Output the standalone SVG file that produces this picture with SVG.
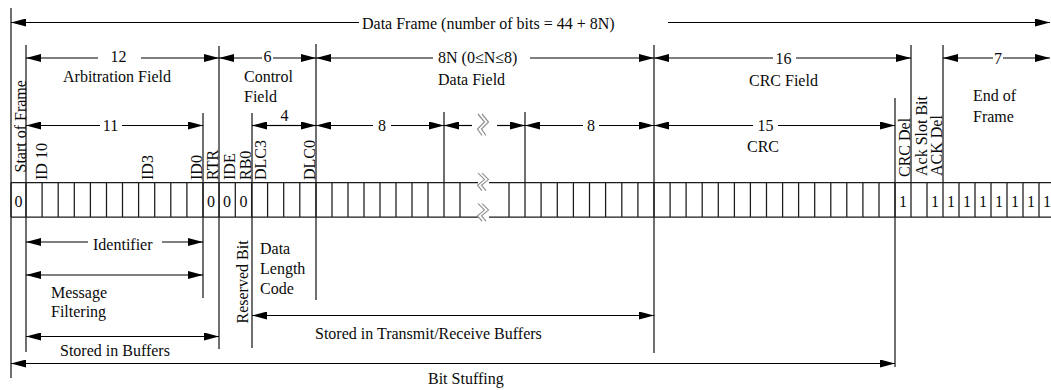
<svg xmlns="http://www.w3.org/2000/svg" width="1051" height="390" viewBox="0 0 1051 390">
  <style>
    text { font-family: "Liberation Serif", "Times New Roman", serif; font-size: 16px; fill: #0a0a0a; }
    .mid { text-anchor: middle; }
    .dim { stroke: #000; stroke-width: 1.2; fill: none; marker-end: url(#ah); }
    .ext { stroke: #111; stroke-width: 1.2; fill: none; }
    .cell { stroke: #1a1a1a; stroke-width: 1.25; fill: none; }
    .brk { stroke: #8f8f8f; stroke-width: 1.2; fill: none; }
  </style>
  <defs>
    <marker id="ah" markerUnits="userSpaceOnUse" markerWidth="15" markerHeight="8" refX="15" refY="4" orient="auto">
      <path d="M0,0 L15,4 L0,8 z" fill="#000"/>
    </marker>
    <!-- double zigzag break mark -->
    <path id="brk" class="brk" d="M0,0 l6.5,8 l-7,7 l4.5,6.5 M4,0 l6.5,8 l-7,7 l4.5,6.5"/>
  </defs>

  <rect width="1051" height="390" fill="#fff"/>

  <!-- extension lines marking field borders -->
  <g id="extension-lines">
    <path class="ext" d="M11,8 V378 M26,45 V352 M203,113 V298 M219,46 V349 M252,113 V348 M316,44 V300
      M444,112 V182.5 M525,112 V182.5 M654,45 V353 M895,98 V367 M911,45 V182.5 M943,45 V182.5"/>
  </g>

  <!-- bit cells -->
  <g id="bit-row">
    <path class="cell" d="M11,182.5 H478 M489,182.5 H1051 M11,217 H478 M489,217 H1051"/>
    <path class="cell" d="M11,182.5 V217 M26,182.5 V217 M42.1,182.5 V217 M58.2,182.5 V217 M74.3,182.5 V217
      M90.4,182.5 V217 M106.5,182.5 V217 M122.5,182.5 V217 M138.6,182.5 V217 M154.7,182.5 V217
      M170.8,182.5 V217 M186.9,182.5 V217 M203,182.5 V217 M219.1,182.5 V217 M235.3,182.5 V217
      M251.6,182.5 V217 M267.6,182.5 V217 M283.7,182.5 V217 M299.8,182.5 V217 M316,182.5 V217
      M332,182.5 V217 M348,182.5 V217 M364,182.5 V217 M380,182.5 V217 M396,182.5 V217
      M412,182.5 V217 M428,182.5 V217 M444,182.5 V217 M460,182.5 V217
      M509,182.5 V217 M525,182.5 V217 M541.1,182.5 V217 M557.3,182.5 V217 M573.4,182.5 V217
      M589.5,182.5 V217 M605.6,182.5 V217 M621.8,182.5 V217 M637.9,182.5 V217 M654,182.5 V217
      M670.1,182.5 V217 M686.1,182.5 V217 M702.2,182.5 V217 M718.3,182.5 V217 M734.4,182.5 V217
      M750.4,182.5 V217 M766.5,182.5 V217 M782.6,182.5 V217 M798.6,182.5 V217 M814.7,182.5 V217
      M830.8,182.5 V217 M846.8,182.5 V217 M862.9,182.5 V217 M879,182.5 V217 M895,182.5 V217
      M911,182.5 V217 M927,182.5 V217 M943,182.5 V217 M959,182.5 V217 M975,182.5 V217
      M991,182.5 V217 M1007,182.5 V217 M1023,182.5 V217 M1039,182.5 V217"/>
    <use href="#brk" transform="translate(478,173) scale(1,0.82)"/>
    <use href="#brk" transform="translate(478,203.5) scale(1,0.82)"/>
    <text class="mid" x="18.5" y="206.5">0</text>
    <text class="mid" x="211" y="206.5">0</text>
    <text class="mid" x="227" y="206.5">0</text>
    <text class="mid" x="243.5" y="206.5">0</text>
    <text class="mid" x="903" y="206.5">1</text>
    <text class="mid" x="935" y="206.5">1</text>
    <text class="mid" x="951" y="206.5">1</text>
    <text class="mid" x="967" y="206.5">1</text>
    <text class="mid" x="983" y="206.5">1</text>
    <text class="mid" x="999" y="206.5">1</text>
    <text class="mid" x="1015" y="206.5">1</text>
    <text class="mid" x="1031" y="206.5">1</text>
    <text class="mid" x="1047" y="206.5">1</text>
  </g>

  <!-- bit names written upwards -->
  <g id="bit-names">
    <text transform="translate(25.5,172.5) rotate(-90)">Start of Frame</text>
    <text transform="translate(46.5,180) rotate(-90)">ID 10</text>
    <text transform="translate(153,180) rotate(-90)">ID3</text>
    <text transform="translate(202,180) rotate(-90)">ID0</text>
    <text transform="translate(218,180) rotate(-90)">RTR</text>
    <text transform="translate(235,180) rotate(-90)">IDE</text>
    <text transform="translate(250.5,180) rotate(-90)">RB0</text>
    <text transform="translate(266,180) rotate(-90)">DLC3</text>
    <text transform="translate(315,180) rotate(-90)">DLC0</text>
    <text transform="translate(910,177) rotate(-90)">CRC Del</text>
    <text transform="translate(927,176) rotate(-90)">Ack Slot Bit</text>
    <text transform="translate(942,176) rotate(-90)">ACK Del</text>
    <text transform="translate(248,323.5) rotate(-90)">Reserved Bit</text>
  </g>

  <!-- dimension arrows -->
  <g id="connectors">
    <!-- whole frame -->
    <line class="dim" x1="359" y1="22.5" x2="11" y2="22.5"/>
    <line class="dim" x1="668" y1="22.5" x2="1050" y2="22.5"/>
    <!-- field level -->
    <line class="dim" x1="98" y1="58" x2="26" y2="58"/>
    <line class="dim" x1="141" y1="58" x2="219" y2="58"/>
    <line class="dim" x1="262" y1="58" x2="219" y2="58"/>
    <line class="dim" x1="273" y1="58" x2="316" y2="58"/>
    <line class="dim" x1="433" y1="58" x2="316" y2="58"/>
    <line class="dim" x1="530" y1="58" x2="654" y2="58"/>
    <line class="dim" x1="773" y1="58" x2="654" y2="58"/>
    <line class="dim" x1="796" y1="58" x2="911" y2="58"/>
    <line class="dim" x1="993" y1="58" x2="943" y2="58"/>
    <line class="dim" x1="1003" y1="58" x2="1050" y2="58"/>
    <!-- sub-field level -->
    <line class="dim" x1="100" y1="125.5" x2="26" y2="125.5"/>
    <line class="dim" x1="122" y1="125.5" x2="203" y2="125.5"/>
    <line class="dim" x1="284" y1="125.5" x2="252" y2="125.5"/>
    <line class="dim" x1="284" y1="125.5" x2="316" y2="125.5"/>
    <line class="dim" x1="373" y1="125.5" x2="316" y2="125.5"/>
    <line class="dim" x1="391" y1="125.5" x2="444" y2="125.5"/>
    <line class="dim" x1="472" y1="125.5" x2="444" y2="125.5"/>
    <line class="dim" x1="497" y1="125.5" x2="525" y2="125.5"/>
    <line class="dim" x1="583" y1="125.5" x2="525" y2="125.5"/>
    <line class="dim" x1="599" y1="125.5" x2="654" y2="125.5"/>
    <line class="dim" x1="753" y1="125.5" x2="654" y2="125.5"/>
    <line class="dim" x1="778" y1="125.5" x2="895" y2="125.5"/>
    <use href="#brk" transform="translate(478,114)"/>
    <!-- lower spans -->
    <line class="dim" x1="88" y1="242" x2="26" y2="242"/>
    <line class="dim" x1="162" y1="242" x2="203" y2="242"/>
    <line class="dim" x1="114" y1="275" x2="26" y2="275"/>
    <line class="dim" x1="114" y1="275" x2="203" y2="275"/>
    <line class="dim" x1="453" y1="315.5" x2="252" y2="315.5"/>
    <line class="dim" x1="453" y1="315.5" x2="654" y2="315.5"/>
    <line class="dim" x1="122" y1="336.5" x2="26" y2="336.5"/>
    <line class="dim" x1="122" y1="336.5" x2="219" y2="336.5"/>
    <line class="dim" x1="453" y1="363.5" x2="11" y2="363.5"/>
    <line class="dim" x1="453" y1="363.5" x2="895" y2="363.5"/>
  </g>

  <!-- field labels -->
  <g id="labels">
    <text x="362" y="28.5">Data Frame (number of bits = 44 + 8N)</text>
    <text class="mid" x="118.5" y="62">12</text>
    <text x="63" y="81.5">Arbitration Field</text>
    <text class="mid" x="267.5" y="62">6</text>
    <text x="244" y="81.5">Control</text>
    <text x="244" y="101.5">Field</text>
    <text x="438" y="62.5">8N (0≤N≤8)</text>
    <text x="438" y="84.5">Data Field</text>
    <text class="mid" x="783.5" y="63.5">16</text>
    <text x="749" y="86">CRC Field</text>
    <text class="mid" x="998" y="63.5">7</text>
    <text x="973" y="100.5">End of</text>
    <text x="973" y="121.5">Frame</text>
    <text class="mid" x="110.5" y="131">11</text>
    <text class="mid" x="284.5" y="121">4</text>
    <text class="mid" x="382" y="131">8</text>
    <text class="mid" x="591" y="131">8</text>
    <text class="mid" x="765.5" y="131">15</text>
    <text x="747" y="151.5">CRC</text>
    <text x="93" y="249.5">Identifier</text>
    <text x="51" y="297.5">Message</text>
    <text x="51" y="317">Filtering</text>
    <text x="60" y="356">Stored in Buffers</text>
    <text x="260" y="253.5">Data</text>
    <text x="260" y="273.5">Length</text>
    <text x="260" y="293.5">Code</text>
    <text x="315" y="338.5">Stored in Transmit/Receive Buffers</text>
    <text x="428" y="383.5">Bit Stuffing</text>
  </g>
</svg>
